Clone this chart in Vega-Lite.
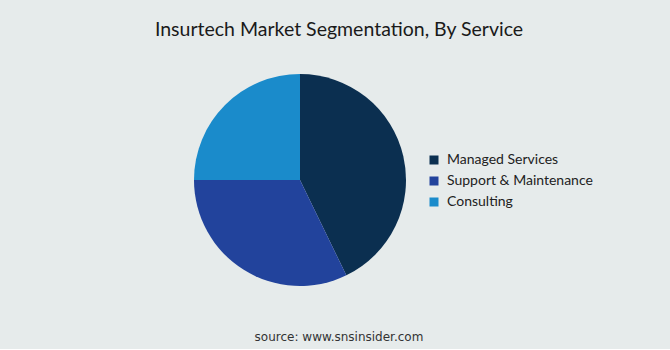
{
  "$schema": "https://vega.github.io/schema/vega-lite/v6.json",
  "background": "#e6ebeb",
  "padding": {"top": 19, "left": 0, "right": 0, "bottom": 6},
  "spacing": 0,
  "title": {
    "text": "Insurtech Market Segmentation, By Service",
    "font": "Lato",
    "fontSize": 19.5,
    "fontWeight": "normal",
    "color": "#1a1a1a",
    "anchor": "middle",
    "dx": 4,
    "offset": 11
  },
  "vconcat": [
    {
      "width": 670,
      "height": 258,
      "title": {
        "text": "source: www.snsinsider.com",
        "orient": "bottom",
        "font": "DejaVu Sans",
        "fontSize": 12,
        "fontWeight": "normal",
        "color": "#333333",
        "anchor": "middle",
        "dx": 4,
        "offset": 23
      },
      "data": {
        "values": [
          {"service": "Managed Services", "share": 42.8, "rank": 1},
          {"service": "Support & Maintenance", "share": 32.2, "rank": 2},
          {"service": "Consulting", "share": 25.0, "rank": 3}
        ]
      },
      "mark": {"type": "arc", "radius": 106, "xOffset": -35},
      "encoding": {
        "theta": {"field": "share", "type": "quantitative", "stack": true},
        "order": {"field": "rank", "type": "quantitative"},
        "color": {
          "field": "service",
          "type": "nominal",
          "scale": {
            "domain": ["Managed Services", "Support & Maintenance", "Consulting"],
            "range": ["#0b2f50", "#22439c", "#1a8bcb"]
          },
          "legend": {
            "title": null,
            "orient": "none",
            "legendX": 427,
            "legendY": 102,
            "padding": 0,
            "symbolType": "square",
            "symbolSize": 81,
            "symbolStrokeWidth": 0,
            "labelFont": "Lato",
            "labelFontSize": 14,
            "labelColor": "#222222",
            "labelOffset": 6,
            "rowPadding": 7
          }
        }
      },
      "view": {"stroke": null}
    }
  ]
}
